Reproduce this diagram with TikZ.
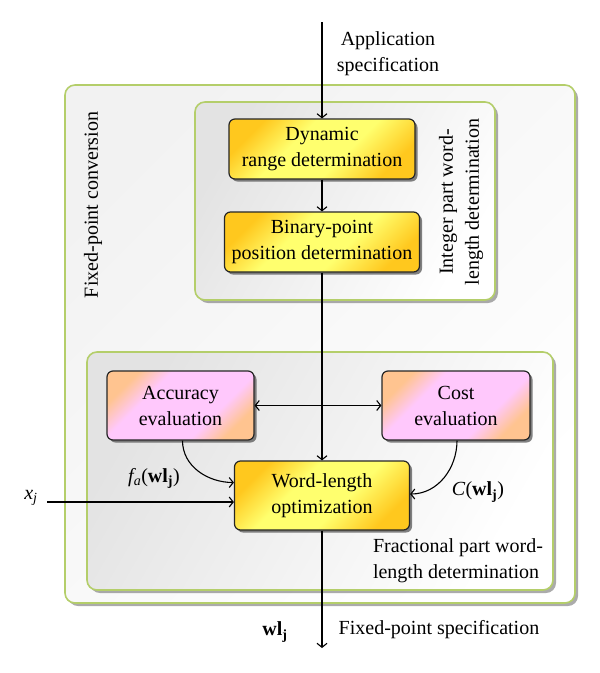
\documentclass[tikz,border=0pt]{standalone}
\usepackage{fontspec}
\setmainfont{Liberation Serif}
\usetikzlibrary{arrows.meta,shadows,calc}
\definecolor{framegreen}{HTML}{B4CE6A}
\definecolor{yelA}{HTML}{FFC81E}
\definecolor{yelB}{HTML}{FFFF6E}
\definecolor{pinkA}{HTML}{FFC490}
\definecolor{pinkB}{HTML}{FFC8FC}
\pgfdeclarehorizontalshading{yelsh}{100bp}{color(0bp)=(yelA); color(25bp)=(yelA); color(40bp)=(yelB); color(58bp)=(yelB); color(75bp)=(yelA); color(100bp)=(yelA)}
\pgfdeclarehorizontalshading{pinksh}{100bp}{color(0bp)=(pinkA); color(25bp)=(pinkA); color(36bp)=(pinkB); color(64bp)=(pinkB); color(75bp)=(pinkA); color(100bp)=(pinkA)}
\tikzset{
  every node/.style={font=\fontsize{20}{26}\selectfont},
  container/.style={draw=framegreen, line width=1.6pt, rounded corners=10pt,
    drop shadow={shadow xshift=3pt, shadow yshift=-3pt, fill=black!55, opacity=0.6}},
  outerbox/.style={container, left color=gray!10, right color=white, shading angle=45},
  innerbox/.style={container, left color=gray!22, right color=white, shading angle=60},
  yelbox/.style={draw=black!85, line width=1.2pt, rounded corners=6pt, align=center,
    shade, shading=yelsh, shading angle=-45,
    drop shadow={shadow xshift=2.5pt, shadow yshift=-2.5pt, fill=black!70, opacity=0.7}},
  pinkbox/.style={draw=black!85, line width=1.2pt, rounded corners=6pt, align=center,
    shade, shading=pinksh, shading angle=-45,
    drop shadow={shadow xshift=2.5pt, shadow yshift=-2.5pt, fill=black!70, opacity=0.7}},
  conn/.style={line width=1.1pt, -{Straight Barb[length=4pt,width=10pt]}},
  lbl/.style={inner sep=0pt}
}
\begin{document}
\begin{tikzpicture}[x=1pt,y=-1pt]
\useasboundingbox (0,0) rectangle (600,673);
% containers
\node[outerbox, minimum width=510pt, minimum height=518pt] (outer) at (320,344) {};
\node[innerbox, minimum width=300pt, minimum height=198pt] (intbox) at (345,201) {};
\node[innerbox, minimum width=466pt, minimum height=238pt] (fracbox) at (320,471) {};
% container labels
\node[lbl, rotate=90] (fpc) at (93,205) {Fixed-point conversion};
\node[lbl, rotate=90, align=center] (intlbl) at (461,202) {Integer part word-\\length determination};
\node[lbl, align=left] (fraclbl) at (458,561) {Fractional part word-\\length determination};
% process boxes
\node[yelbox, minimum width=186pt, minimum height=60pt] (dyn) at (322,149) {Dynamic\\range determination};
\node[yelbox, minimum width=195pt, minimum height=60pt] (bin) at (322,242) {Binary-point\\position determination};
\node[pinkbox, minimum width=147pt, minimum height=69pt] (acc) at (180.5,405.5) {Accuracy\\evaluation};
\node[pinkbox, minimum width=148pt, minimum height=69pt] (cost) at (456,405.5) {Cost\\evaluation};
\node[yelbox, minimum width=175pt, minimum height=69pt] (wlo) at (322,495.5) {Word-length\\optimization};
% coordinates
\coordinate (top) at (322,22);
\coordinate (bot) at (322,648);
\coordinate (xin) at (47,502);
% labels
\node[lbl, align=center] (app) at (388,54) {Application\\specification};
\node[lbl] (fspec) at (439,630) {Fixed-point specification};
\node[lbl] (wlj) at (275,632) {\textbf{wl}\textsubscript{\textbf{j}}};
\node[lbl] (xj) at (31,498) {\itshape x\textsubscript{j}};
\node[lbl] (fa) at (154,478) {{\itshape f}\textsubscript{\itshape a}(\textbf{wl}\textsubscript{\textbf{j}})};
\node[lbl] (cw) at (478,492) {\textit{C}(\textbf{wl}\textsubscript{\textbf{j}})};
% connectors
\draw[conn] (top) -- (dyn.north);
\draw[conn] (dyn) -- (bin);
\draw[conn] (bin) -- (wlo);
\draw[line width=1.1pt, {Straight Barb[length=4pt,width=10pt]}-{Straight Barb[length=4pt,width=10pt]}] (acc.east) -- (cost.west);
\draw[conn] ([xshift=2pt]acc.south) to[out=-90, in=180] ([yshift=13pt]wlo.west);
\draw[conn] ([xshift=1pt]cost.south) to[out=-90, in=0] ([yshift=1.5pt]wlo.east);
\draw[conn] (xin) -- ([yshift=-6.5pt]wlo.west);
\draw[conn] (wlo.south) -- (bot);
\end{tikzpicture}
\end{document}
